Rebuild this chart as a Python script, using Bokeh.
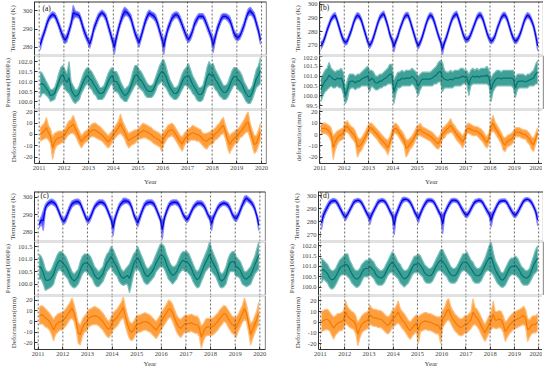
from bokeh.plotting import figure
from bokeh.layouts import row, column
from bokeh.models import Range1d, Span, Label, FixedTicker, NumeralTickFormatter, ColumnDataSource
from bokeh.embed import file_html
from bokeh.resources import INLINE

FONT = "Liberation Serif"
YEARS = [2011, 2012, 2013, 2014, 2015, 2016, 2017, 2018, 2019, 2020]
START_YEAR = 2011
N_MONTHS = 108
MONTH_X = [START_YEAR + (i + 0.5) / 12 for i in range(N_MONTHS)]

# ---------------- panel (a) ----------------
A_TEMP_LO = [278.5,283,286.5,290,293.5,295.5,296.5,296,293.5,290.5,287,284,
             282,283,287,291,295,296.5,296.5,295.5,292,288,285,282.5,
             279.5,283,288,291,294,296.5,297.5,296.5,294,290,286,282,
             276,283,288,292,295,297,297.5,296.5,294,290,286,283,
             280,284,288,292,295,297,296.5,295.5,294,291,287,283,
             276,283.5,288,291,294,295.5,296.5,295.5,293,290,287,284,
             282.5,284,287,291,293,295.5,295.5,295.5,293,290,287,284,
             277,283,288,291,294,295.5,295.5,294.5,293,290,286,284,
             283.5,284.5,287,290,294,297,298,297,295,291,287,281.5]
A_TEMP_HI = [284,287,290,294,297,298.5,299.5,299,297,294,291,288,
             286,287.5,291,295,303,300,299.5,299,296,292,289,286,
             284,287,292,295,298,299.5,300.5,299.5,298,294,290,286,
             284,287.5,292,296,300,302,301,299.5,298,294,290,287,
             285,288,292,296,299,300.5,299.5,299,298,295,291,287,
             284.5,288,292,295,298,299,299.5,299,297,294,291,288,
             286,288,291,295,297,298.5,298.5,298.5,297,294,291,288,
             285,287.5,292,295,298,298.5,298.5,298,297,294,290,288,
             287,288,291,294,298,301,302,300.5,299,295,291,286]
A_PRES_LO = [100.2,100.4,100.4,100.3,100.2,100.0,100.05,100.1,100.4,100.6,100.8,100.9,
             100.6,100.5,100.4,100.2,100.0,99.9,100.0,100.1,100.4,100.6,100.8,100.9,
             100.7,100.6,100.4,100.3,100.1,100.1,100.1,100.2,100.4,100.6,100.8,100.9,
             100.5,100.5,100.4,100.2,100.1,100.0,100.0,100.2,100.4,100.6,100.8,100.9,
             100.7,100.6,100.5,100.3,100.2,100.2,100.2,100.3,100.5,100.8,100.9,101.0,
             100.8,100.7,100.5,100.3,100.2,100.1,100.1,100.2,100.4,100.6,100.8,100.8,
             100.7,100.6,100.4,100.3,100.1,100.0,100.0,100.1,100.4,100.7,100.8,100.8,
             100.8,100.6,100.5,100.3,100.2,100.1,100.1,100.2,100.4,100.6,100.8,100.8,
             100.6,100.5,100.4,100.2,100.0,99.9,99.9,100.1,100.4,100.7,100.8,100.9]
A_PRES_HI = [101.5,101.4,101.2,101.0,100.8,100.6,100.6,100.7,101.0,101.4,101.7,101.8,
             101.6,101.4,102.0,101.0,100.8,100.6,100.6,100.8,101.1,101.4,101.6,101.7,
             101.6,101.5,101.3,101.1,100.9,100.7,100.7,100.8,101.1,101.4,101.6,101.7,
             101.5,101.5,101.3,101.0,100.8,100.6,100.7,100.8,101.1,101.5,101.8,101.8,
             101.6,101.5,101.3,101.1,100.9,100.8,100.8,100.9,101.2,101.5,101.8,102.0,
             102.1,101.8,101.4,101.1,100.9,100.7,100.7,100.8,101.1,101.4,101.6,101.7,
             101.9,101.6,101.3,101.1,100.9,100.7,100.7,100.8,101.2,101.7,102.0,101.8,
             101.9,101.6,101.4,101.2,101.0,100.8,100.8,100.9,101.2,101.5,101.7,101.7,
             101.6,101.5,101.3,101.0,100.8,100.6,100.6,100.8,101.2,101.6,101.8,102.2]
A_DEF_LO = [-6,-5,-4,-3,-5,-8,-22,-14,-10,-9,-8,-7,
            -5,-2,0,1,1,-1,-5,-9,-12,-9,-7,-6,
            -3,-2,-2,-3,-4,-5,-6,-8,-10,-12,-10,-7,
            -4,-2,0,1,-1,-4,-9,-12,-10,-9,-8,-6,
            -4,-4,-3,-3,-4,-5,-6,-8,-9,-10,-11,-15,
            -9,-6,-3,-2,-1,-3,-6,-9,-12,-15,-10,-7,
            -7,-5,-5,-5,-6,-6,-8,-10,-12,-13,-10,-9,
            -8,-5,-4,-2,0,1,-4,-12,-17,-13,-10,-8,
            -7,-3,-2,0,2,2,-4,-10,-17,-15,-10,-5]
A_DEF_HI = [6,8,10,15,8,5,-2,1,2,3,3,3,
            5,9,12,13,17,12,7,3,-1,1,3,4,
            7,9,10,10,8,7,5,3,1,-1,1,3,
            6,9,12,18,12,8,4,1,2,3,4,4,
            6,8,10,9,8,7,6,4,3,2,1,-1,
            3,5,8,9,10,8,5,2,-1,-2,1,3,
            5,6,8,7,6,5,4,1,1,1,2,3,
            4,6,8,10,13,15,8,3,-1,1,2,4,
            5,7,10,13,17,20,10,4,-1,-1,4,10]

# ---------------- panel (b) ----------------
B_TEMP_LO = [267,270,274,279,283,287,289,290,286,281,276,272,
             270,271,275,279,284,288,290,289,286,281,276,271,
             267.5,270,274,279,284,288,290,291,287,282,276,272,
             265,271,275,280,284,288,290,290,286,281,276,271,
             267,270,274,279,284,288,290,289,285,280,275,271,
             263,270,274,279,284,288,290,291,287,282,277,273,
             272,273,276,280,284,288,290,290,287,282,277,273,
             271,272,275,280,284,288,290,290,287,282,277,273,
             271,272,275,279,284,288,290,289,286,282,275,266]
B_TEMP_HI = [272.5,274,278,283,287,291,293,294,290,285,280,276,
             274,275,279,283,288,292,294,293,290,285,280,275,
             272,274,278,283,288,292,294,295,291,286,280,276,
             273,275,279,284,288,292,294,294,290,285,280,275,
             272,274,278,283,288,292,294,293,289,284,279,275,
             271,274,278,283,288,292,294,295,291,286,281,277,
             276,277,280,284,288,292,294,294,291,286,281,277,
             275,276,279,284,288,292,294,294,291,286,281,277,
             275,276,279,283,288,292,294,293,290,286,280,273]
B_PRES_LO = [99.7,100.0,100.2,100.3,100.4,100.5,100.4,100.4,100.5,100.4,100.4,100.1,
             99.6,99.8,100.3,100.4,100.4,100.3,100.4,100.4,100.5,100.5,100.5,100.5,
             100.2,100.5,100.4,100.3,100.3,100.4,100.4,100.5,100.5,100.6,100.6,100.6,
             99.6,100.1,100.4,100.4,100.5,100.5,100.5,100.5,100.5,100.6,100.5,100.3,
             100.0,100.3,100.5,100.5,100.5,100.5,100.5,100.5,100.6,100.6,100.7,100.7,
             100.2,100.4,100.4,100.4,100.4,100.4,100.5,100.5,100.5,100.5,100.6,100.6,
             100.6,100.0,100.5,100.6,100.6,100.6,100.6,100.6,100.6,100.6,100.6,100.5,
             99.7,100.2,100.4,100.5,100.5,100.5,100.5,100.5,100.5,100.5,100.5,100.4,
             99.9,100.3,100.4,100.4,100.4,100.4,100.4,100.5,100.5,100.5,100.6,100.6]
B_PRES_HI = [100.9,101.1,101.3,101.4,101.7,101.4,101.3,101.2,101.3,101.3,101.4,101.2,
             100.4,100.8,101.1,101.1,101.1,101.0,101.1,101.1,101.2,101.3,101.4,101.5,
             101.3,101.3,101.2,101.0,101.0,101.1,101.1,101.2,101.3,101.4,101.6,101.6,
             100.8,101.0,101.2,101.2,101.3,101.2,101.3,101.3,101.3,101.4,101.3,101.2,
             101.0,101.1,101.2,101.2,101.2,101.2,101.2,101.3,101.4,101.5,101.7,101.8,
             101.7,101.3,101.2,101.2,101.3,101.2,101.3,101.3,101.3,101.4,101.4,101.3,
             101.3,101.1,101.3,101.4,101.3,101.4,101.3,101.4,101.4,101.4,101.5,101.3,
             100.9,101.1,101.2,101.3,101.3,101.2,101.3,101.3,101.3,101.3,101.3,101.3,
             100.9,101.1,101.1,101.1,101.1,101.0,101.1,101.1,101.2,101.3,101.6,101.8]
B_DEF_LO = [1,1,1,0,-2,-6,-22,-14,-9,-6,-5,-4,
            2,2,0,-3,-5,-8,-20,-16,-14,-10,-7,-3,
            2,1,-1,-3,-5,-8,-10,-12,-14,-18,-13,-6,
            1,1,-1,-4,-7,-10,-20,-17,-13,-11,-8,-4,
            -1,-1,-2,-3,-4,-5,-6,-8,-10,-12,-13,-10,
            -4,-3,0,1,2,1,-2,-5,-7,-9,-12,-8,
            1,1,0,-1,-1,-1,-3,-5,-7,-10,-12,-8,
            2,3,1,-2,-5,-8,-14,-15,-11,-10,-9,-7,
            -2,-2,-2,-3,-4,-4,-7,-9,-13,-15,-9,-3]
B_DEF_HI = [9,10,10,9,8,6,-1,1,3,4,5,6,
            11,12,9,7,6,3,-2,-4,-3,0,3,7,
            10,10,8,6,4,2,0,-2,-4,-5,-2,4,
            9,10,8,5,3,0,-4,-5,-3,-1,2,6,
            8,10,7,6,5,4,3,2,0,-2,-3,0,
            6,7,9,11,14,10,8,5,3,1,-1,2,
            9,10,9,8,7,7,6,5,3,0,-2,2,
            12,17,11,8,5,2,-2,-3,-1,0,1,3,
            6,6,6,5,4,4,3,1,-2,-3,1,6]

# ---------------- panel (c) ----------------
C_TEMP_LO = [282.5,285,281,292,294.5,295.5,296,295.5,294.5,292,289,286,
             284.5,286,289,292,294.5,295.5,296,296,295,292,289,286,
             285,287,290,293,294.5,295.5,296,295.5,294.5,292,289,286,
             278,286,290,293,295,296,296.5,296.5,295.5,293,289,286,
             283,286.5,290,293,295,295.5,296,295.5,294.5,292,289,286,
             276,286,290,293,295,295.5,296,295.5,294.5,292,289,287,
             285.5,287,290,292.5,294,295,295.5,295,294,292,289,287,
             281,287,290,292.5,294,295,295.5,295,294,292,289,287,
             286,288,291,294,296,298,297,296,294.5,292,288,281]
C_TEMP_HI = [286.5,289,292.5,296,297.5,298.5,299,298.5,297.5,295,292,289,
             288,290,293,296,298,298.5,299,299,298,295,292,289,
             288.5,290.5,293.5,296,297.5,298.5,298.5,298.5,297.5,295,292,289,
             287,290,293.5,296.5,298,299.5,299.5,299,298.5,296,292,289,
             288,290.5,293.5,296.5,298,298.5,298.5,298.5,297.5,295,292,289,
             287,290,293.5,296.5,298,298.5,298.5,298.5,297.5,295,292,290,
             289,290.5,293,295.5,297,298,298,298,297,295,292,290,
             289,290.5,293,295.5,297,297.5,298,297.5,297,295,292,290,
             290,291.5,294.5,297.5,300.5,301,300,299,297.5,295,291,287]
C_PRES_LO = [100.2,100.2,100.0,99.75,99.8,99.85,99.9,100.0,100.3,100.5,100.6,100.5,
             100.4,100.3,100.2,100.0,99.9,99.85,99.9,100.0,100.2,100.4,100.5,100.5,
             100.4,100.3,100.2,100.0,99.9,99.9,100.0,100.1,100.3,100.5,100.6,100.7,
             100.5,100.4,100.3,100.1,100.0,99.95,100.0,100.0,99.65,100.0,100.4,100.6,
             100.6,100.5,100.3,100.1,100.0,100.0,100.1,100.2,100.3,100.5,100.6,100.7,
             100.7,100.6,100.4,100.2,100.1,100.0,100.1,100.2,100.4,100.5,100.6,100.5,
             100.5,100.4,100.3,100.1,99.95,99.85,99.9,100.1,100.3,100.5,100.6,100.7,
             100.5,100.4,100.3,100.1,99.9,99.85,99.9,100.0,100.3,100.5,100.5,100.5,
             100.3,100.3,100.2,100.0,99.95,99.9,99.95,100.0,100.2,100.4,100.5,100.6]
C_PRES_HI = [101.2,101.1,100.9,100.6,100.5,100.5,100.6,100.8,101.0,101.2,101.3,101.3,
             101.2,101.1,100.9,100.7,100.5,100.4,100.5,100.6,100.9,101.1,101.2,101.2,
             101.2,101.1,100.9,100.7,100.6,100.5,100.6,100.7,101.0,101.2,101.3,101.5,
             101.4,101.2,101.0,100.8,100.6,100.5,100.6,100.7,100.8,101.0,101.2,101.3,
             101.5,101.3,101.1,100.9,100.7,100.6,100.7,100.8,101.0,101.2,101.4,101.6,
             101.6,101.5,101.2,101.0,100.8,100.7,100.7,100.8,101.0,101.2,101.3,101.3,
             101.3,101.2,101.0,100.8,100.6,100.5,100.6,100.8,101.0,101.2,101.4,101.7,
             101.4,101.2,101.0,100.8,100.5,100.4,100.5,100.7,101.0,101.2,101.3,101.3,
             101.1,101.0,100.9,100.7,100.5,100.5,100.6,100.7,100.9,101.1,101.4,101.7]
C_DEF_LO = [-3,-2,-3,-5,-6,-8,-12,-18,-12,-10,-8,-8,
            -6,-4,-1,2,3,0,-8,-20,-22,-14,-10,-9,
            -5,-4,-3,-3,-3,-4,-6,-8,-11,-14,-15,-12,
            -8,-6,-4,-1,2,3,-4,-11,-16,-18,-16,-12,
            -10,-10,-9,-8,-8,-9,-10,-12,-14,-16,-13,-10,
            -6,-3,0,3,4,0,-5,-10,-13,-15,-12,-10,
            -10,-10,-9,-10,-11,-11,-14,-25,-18,-14,-13,-13,
            -13,-12,-10,-8,-5,-3,0,-1,-5,-8,-11,-12,
            -15,-9,-5,-1,2,0,-10,-22,-16,-11,-6,-3]
C_DEF_HI = [13,15,14,12,10,8,5,2,5,7,8,8,
            10,12,15,18,22,16,8,-1,-3,2,5,7,
            11,12,13,14,13,12,10,8,5,2,0,4,
            8,10,12,15,18,23,14,6,0,-2,0,4,
            6,6,7,8,8,7,6,4,2,0,3,6,
            10,13,16,20,19,16,11,6,3,2,4,6,
            6,6,7,6,5,5,2,-4,-2,2,3,3,
            3,4,6,8,11,13,15,14,11,8,5,4,
            4,7,11,15,22,16,6,-2,0,5,10,18]

# ---------------- panel (d) ----------------
D_TEMP_LO = [274,282,286,289,292,294,294.5,294.5,292,289,286,283,
             281,284,287,290,293,294.5,295,294.5,292.5,289.5,286,283,
             278,283.5,287,290,293,294.5,295,294.5,292.5,289.5,286,283,
             270,283,287,291,294,295.5,296,295,293,290,286,283,
             279,284,288,291,293.5,295,295,294.5,292.5,289.5,286,283,
             271,284,288,291,293.5,295,295,294.5,292.5,289.5,286.5,284,
             283,285,288,291,293.5,294.5,295,294.5,292.5,289.5,286.5,284,
             276,283.5,287.5,291,293.5,294.5,295,294.5,292.5,289.5,286.5,284,
             283,285,288,291,294,295.5,296,295,293,290,286,277]
D_TEMP_HI = [284,288,291,294,296.5,297.5,298,297.5,296,293,290,287,
             286,288,291,294,297,297.5,298,297.5,296,293,290,287,
             286,288,291,294,297,297.5,298,297.5,296,293,290,287,
             285,288,292,295.5,298.5,299,298.5,298,296.5,293.5,290,287,
             286,288.5,292,295,297.5,298,298,297.5,296,293,290,287,
             286,288.5,292,295,297.5,298,298,297.5,296,293,290.5,288,
             287,289,292,295,297,297.5,298,297.5,296,293,290.5,288,
             286.5,288.5,291.5,294.5,297,297.5,297.5,297.5,296,293,290.5,288,
             287,289,292,295,297.5,298.5,298.5,298,296.5,293.5,290,286]
D_PRES_LO = [100.2,100.4,100.3,100.2,100.0,99.9,99.95,100.1,100.3,100.5,100.6,100.6,
             100.6,100.5,100.4,100.2,100.1,100.0,100.0,100.1,100.3,100.5,100.5,100.5,
             100.6,100.5,100.4,100.2,100.1,100.1,100.1,100.2,100.4,100.6,100.7,100.7,
             100.6,100.5,100.4,100.2,100.1,100.0,100.1,100.2,100.4,100.6,100.7,100.7,
             100.7,100.6,100.5,100.3,100.2,100.2,100.2,100.3,100.5,100.7,100.8,100.8,
             100.7,100.6,100.5,100.3,100.2,100.2,100.2,100.3,100.5,100.7,100.8,100.8,
             100.7,100.6,100.5,100.3,100.2,100.2,100.2,100.3,100.5,100.7,100.8,100.8,
             100.7,100.6,100.4,100.2,100.1,100.0,100.0,100.1,100.3,100.5,100.6,100.6,
             100.6,100.5,100.4,100.2,100.1,100.1,100.1,100.2,100.4,100.6,100.7,100.8]
D_PRES_HI = [101.4,101.3,101.2,101.1,100.9,100.8,100.8,100.9,101.1,101.3,101.4,101.5,
             101.6,101.6,101.3,101.1,100.9,100.8,100.8,100.9,101.1,101.2,101.3,101.3,
             101.4,101.3,101.2,101.0,100.9,100.8,100.8,100.9,101.1,101.3,101.5,101.7,
             101.6,101.4,101.2,101.1,100.9,100.8,100.8,100.9,101.1,101.3,101.5,101.5,
             101.6,101.5,101.3,101.1,101.0,100.9,100.9,101.0,101.2,101.4,101.6,101.8,
             101.8,101.6,101.4,101.2,101.0,100.9,100.9,101.0,101.2,101.4,101.6,101.6,
             101.7,101.5,101.3,101.2,101.0,100.9,100.9,101.0,101.2,101.4,101.7,102.0,
             102.2,101.7,101.3,101.1,100.9,100.7,100.7,100.9,101.1,101.3,101.4,101.4,
             101.5,101.4,101.2,101.0,100.9,100.8,100.8,100.9,101.2,101.5,101.8,102.0]
D_DEF_LO = [-9,-8,-7,-7,-8,-12,-16,-12,-10,-8,-8,-6,
            -1,-3,-5,-6,-7,-11,-22,-15,-10,-8,-7,-6,
            -2,-3,-4,-4,-5,-5,-6,-8,-10,-11,-9,-5,
            -4,-2,-1,-3,-6,-8,-11,-14,-16,-13,-11,-9,
            -20,-9,-8,-7,-7,-8,-8,-9,-10,-11,-11,-20,
            -5,-2,1,2,-1,-5,-8,-10,-12,-13,-12,-10,
            -10,-8,-6,-3,-2,-4,-7,-11,-15,-18,-14,-10,
            -7,-5,-6,-6,-5,-6,-10,-18,-14,-11,-9,-7,
            -6,-5,-4,-3,-2,-4,-18,-14,-11,-10,-10,-8]
D_DEF_HI = [10,11,12,12,10,7,5,6,8,8,9,11,
            20,14,12,10,9,6,0,3,6,8,9,10,
            16,13,12,12,11,11,10,8,6,5,7,11,
            12,15,20,13,10,8,5,2,0,3,5,7,
            5,7,8,9,9,8,8,7,6,5,5,5,
            11,14,20,22,15,11,8,6,4,3,4,6,
            6,8,10,22,14,12,9,5,1,-2,2,6,
            9,20,10,10,11,10,6,0,2,5,7,9,
            10,11,12,13,15,12,4,2,5,6,6,8]

# tick values
A_TEMP_TICKS = [280, 290, 300]
B_TEMP_TICKS = [270, 280, 290, 300]
C_TEMP_TICKS = [280, 290, 300]
D_TEMP_TICKS = [270, 280, 290, 300]
A_PRES_TICKS = [100.0, 100.5, 101.0, 101.5, 102.0]
B_PRES_TICKS = [99.5, 100.0, 100.5, 101.0, 101.5, 102.0]
C_PRES_TICKS = [100.0, 100.5, 101.0, 101.5]
D_PRES_TICKS = [100.0, 100.5, 101.0, 101.5, 102.0]
DEF_TICKS = [-20, -10, 0, 10, 20]

TEMP_LABEL = "Temperature (K)"
PRES_LABEL = "Pressure(1000Pa)"
DEF_LABEL = "Deformation(mm)"
DEF_LABEL_B = "deformation(mm)"
PANEL_NAMES = ["(a)", "(b)", "(c)", "(d)"]

# (core line colour, band fill colour, band edge colour)
COLORS = {"temp": ("#0000e6", "#2a2af5", "#8a8aff"),
          "pres": ("#00776f", "#1d8f86", "#7cc0ba"),
          "def": ("#f57a00", "#ff8d1a", "#ffc07f")}
BORDER = "#333333"
SEP = "#c4c4c4"


def sub_fig(kind, lo, hi, xr, yr, fw, fh, ticks, fmt, ylabel, first, last,
            right_b, bottom_b, year_standoff, tag=None, tag_off=(0, 0)):
    p = figure(frame_width=fw, frame_height=fh,
               x_range=Range1d(*xr), y_range=Range1d(*yr),
               output_backend="svg", toolbar_location=None,
               min_border_left=28, min_border_right=right_b,
               min_border_top=1 if first else 0,
               min_border_bottom=bottom_b if last else 0)
    p.outline_line_color = None
    p.grid.visible = False
    p.background_fill_color = "white"
    p.border_fill_color = "white"
    mid = [(a + b) / 2 for a, b in zip(lo, hi)]
    src = ColumnDataSource(dict(x=MONTH_X, lo=lo, hi=hi, mid=mid))
    core, band, edge = COLORS[kind]
    p.varea(x="x", y1="lo", y2="hi", source=src, fill_color=band, fill_alpha=0.85)
    p.line(x="x", y="lo", source=src, line_color=edge, line_width=1.2)
    p.line(x="x", y="hi", source=src, line_color=edge, line_width=1.2)
    p.line(x="x", y="mid", source=src, line_color=core, line_width=1.2)
    for yv in YEARS:
        p.add_layout(Span(location=yv, dimension="height", line_color="#444444",
                          line_width=0.8, line_dash="2 2"))
    # frame borders
    p.add_layout(Span(location=xr[1], dimension="height", line_color=BORDER, line_width=1.2))
    if first:
        p.add_layout(Span(location=yr[1], dimension="width", line_color=BORDER, line_width=2))
    else:
        p.add_layout(Span(location=yr[1], dimension="width", line_color=SEP, line_width=2))
    if not last:
        p.add_layout(Span(location=yr[0], dimension="width", line_color=SEP, line_width=2))
    ya = p.yaxis[0]
    ya.ticker = FixedTicker(ticks=ticks)
    ya.formatter = NumeralTickFormatter(format=fmt)
    ya.axis_label = ylabel
    ya.axis_label_text_font = FONT
    ya.axis_label_text_font_style = "normal"
    ya.axis_label_text_font_size = "7px"
    ya.axis_label_standoff = 3
    ya.major_label_text_font = FONT
    ya.major_label_text_font_size = "6.5px"
    ya.major_label_standoff = 2
    ya.major_tick_in = 3
    ya.major_tick_out = 0
    ya.minor_tick_in = 0
    ya.minor_tick_out = 0
    ya.axis_line_color = BORDER
    ya.major_tick_line_color = BORDER
    xa = p.xaxis[0]
    if last:
        xa.ticker = FixedTicker(ticks=YEARS)
        xa.formatter = NumeralTickFormatter(format="0")
        xa.axis_label = "Year"
        xa.axis_label_text_font = FONT
        xa.axis_label_text_font_style = "normal"
        xa.axis_label_text_font_size = "7px"
        xa.axis_label_standoff = year_standoff
        xa.major_label_text_font = FONT
        xa.major_label_text_font_size = "6.5px"
        xa.major_label_standoff = 2
        xa.major_tick_in = 3
        xa.major_tick_out = 0
        xa.minor_tick_in = 0
        xa.minor_tick_out = 0
        xa.axis_line_color = BORDER
        xa.major_tick_line_color = BORDER
    else:
        xa.visible = False
    if tag is not None:
        tx = xr[0] + tag_off[0] * (xr[1] - xr[0]) / fw
        ty = yr[1] - tag_off[1] * (yr[1] - yr[0]) / fh
        p.add_layout(Label(x=tx, y=ty, text=tag, text_font=FONT,
                           text_font_size="7.5px", text_baseline="middle",
                           text_align="left", text_color="#111111"))
    return p


def panel(series, xr, fw, heights, yrs, ticks, labels, right_b, bottom_b,
          year_standoff, tag, tag_off):
    kinds = ["temp", "pres", "def"]
    fmts = ["0", "0.0", "0"]
    figs = []
    for i in range(3):
        lo, hi = series[i]
        figs.append(sub_fig(kinds[i], lo, hi, xr, yrs[i], fw, heights[i], ticks[i],
                            fmts[i], labels[i], i == 0, i == 2, right_b, bottom_b,
                            year_standoff, tag if i == 0 else None, tag_off))
    return column(*figs, spacing=0)


pa = panel([(A_TEMP_LO, A_TEMP_HI), (A_PRES_LO, A_PRES_HI), (A_DEF_LO, A_DEF_HI)],
           (2010.81, 2020.2), 232, [54, 54, 54],
           [(275.5, 305.1), (99.6, 102.3), (-25.7, 22.0)],
           [A_TEMP_TICKS, A_PRES_TICKS, DEF_TICKS],
           [TEMP_LABEL, PRES_LABEL, DEF_LABEL], 19, 27, 5, PANEL_NAMES[0], (8, 6.5))
pb = panel([(B_TEMP_LO, B_TEMP_HI), (B_PRES_LO, B_PRES_HI), (B_DEF_LO, B_DEF_HI)],
           (2010.98, 2020.2), 224, [54, 54, 54],
           [(262.5, 302.0), (99.3, 102.05), (-25.5, 22.0)],
           [B_TEMP_TICKS, B_PRES_TICKS, DEF_TICKS],
           [TEMP_LABEL, PRES_LABEL, DEF_LABEL_B], 5, 27, 5, PANEL_NAMES[1], (1, 6))
pc = panel([(C_TEMP_LO, C_TEMP_HI), (C_PRES_LO, C_PRES_HI), (C_DEF_LO, C_DEF_HI)],
           (2010.85, 2020.23), 231, [50, 54, 54],
           [(274.8, 303.3), (99.55, 101.7), (-26.1, 24.3)],
           [C_TEMP_TICKS, C_PRES_TICKS, DEF_TICKS],
           [TEMP_LABEL, PRES_LABEL, DEF_LABEL], 19, 19, 1, PANEL_NAMES[2], (6, 4))
pd_ = panel([(D_TEMP_LO, D_TEMP_HI), (D_PRES_LO, D_PRES_HI), (D_DEF_LO, D_DEF_HI)],
            (2010.92, 2020.2), 225, [50, 54, 54],
            [(265.0, 303.2), (99.6, 102.2), (-25.6, 25.0)],
            [D_TEMP_TICKS, D_PRES_TICKS, DEF_TICKS],
            [TEMP_LABEL, PRES_LABEL, DEF_LABEL], 5, 19, 1, PANEL_NAMES[3], (2, 4))

layout = column(row(pa, pb, spacing=0), row(pc, pd_, spacing=0), spacing=0)

with open("out.html", "w") as f:
    f.write(file_html(layout, INLINE))
